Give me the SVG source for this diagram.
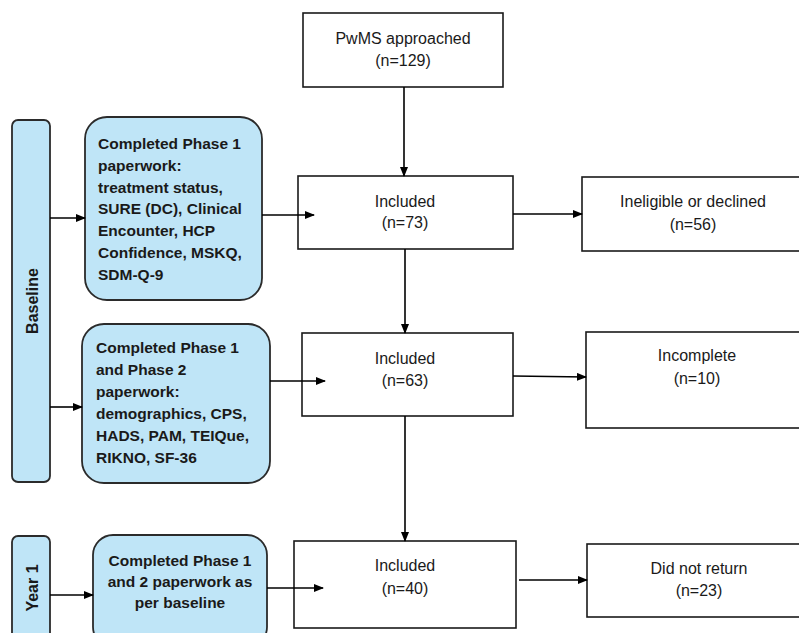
<svg xmlns="http://www.w3.org/2000/svg" width="799" height="633" viewBox="0 0 799 633">
<style>
.box{fill:#fff;stroke:#1a1a1a;stroke-width:1.6}
.blue{fill:#bfe5f7;stroke:#2b2b2b;stroke-width:1.8}
.t{font-family:"Liberation Sans",Arial,sans-serif;font-size:16px;fill:#1a1a1a;text-anchor:middle}
.b{font-family:"Liberation Sans",Arial,sans-serif;font-size:15.5px;font-weight:bold;fill:#1a1a1a}
.v{font-family:"Liberation Sans",Arial,sans-serif;font-size:16px;font-weight:bold;fill:#1a1a1a;text-anchor:middle}
.c{stroke:#000;stroke-width:1.6;fill:none;marker-end:url(#ah)}
</style>
<defs>
<marker id="ah" markerWidth="10" markerHeight="8" refX="9" refY="4" orient="auto" markerUnits="userSpaceOnUse">
<path d="M0,0 L10,4 L0,8 Z" fill="#000"/>
</marker>
</defs>
<rect width="799" height="633" fill="#fff"/>

<g id="baseline-bar">
<rect class="blue" x="12" y="120" width="38" height="362" rx="6"/>
<text class="v" transform="translate(38,301) rotate(-90)">Baseline</text>
</g>
<g id="year1-bar">
<rect class="blue" x="12" y="536" width="38" height="110" rx="6"/>
<text class="v" transform="translate(38,588) rotate(-90)">Year 1</text>
</g>

<g id="phase1">
<rect class="blue" x="85" y="117" width="177" height="183" rx="22"/>
<text class="b"><tspan x="98" y="149">Completed Phase 1</tspan><tspan x="98" y="171">paperwork:</tspan><tspan x="98" y="193">treatment status,</tspan><tspan x="98" y="214">SURE (DC), Clinical</tspan><tspan x="98" y="236">Encounter, HCP</tspan><tspan x="98" y="258">Confidence, MSKQ,</tspan><tspan x="98" y="280">SDM-Q-9</tspan></text>
</g>
<g id="phase12">
<rect class="blue" x="82" y="324" width="188" height="159" rx="22"/>
<text class="b"><tspan x="96" y="353">Completed Phase 1</tspan><tspan x="96" y="375">and Phase 2</tspan><tspan x="96" y="397">paperwork:</tspan><tspan x="96" y="419">demographics, CPS,</tspan><tspan x="96" y="441">HADS, PAM, TEIQue,</tspan><tspan x="96" y="463">RIKNO, SF-36</tspan></text>
</g>
<g id="year1-paper">
<rect class="blue" x="93" y="535" width="174" height="112" rx="20"/>
<text class="b" text-anchor="middle"><tspan x="180" y="566">Completed Phase 1</tspan><tspan x="180" y="587">and 2 paperwork as</tspan><tspan x="180" y="608">per baseline</tspan></text>
</g>

<g id="approached">
<rect class="box" x="303" y="13" width="200" height="74"/>
<text class="t"><tspan x="403" y="44">PwMS approached</tspan><tspan x="403" y="66">(n=129)</tspan></text>
</g>
<g id="included73">
<rect class="box" x="298" y="176" width="215" height="73"/>
<text class="t"><tspan x="405" y="207">Included</tspan><tspan x="405" y="228">(n=73)</tspan></text>
</g>
<g id="ineligible">
<rect class="box" x="582" y="177" width="230" height="74"/>
<text class="t"><tspan x="693" y="207">Ineligible or declined</tspan><tspan x="693" y="230">(n=56)</tspan></text>
</g>
<g id="included63">
<rect class="box" x="302" y="333" width="211" height="83"/>
<text class="t"><tspan x="405" y="364">Included</tspan><tspan x="405" y="386">(n=63)</tspan></text>
</g>
<g id="incomplete">
<rect class="box" x="586" y="332" width="226" height="96"/>
<text class="t"><tspan x="697" y="361">Incomplete</tspan><tspan x="697" y="384">(n=10)</tspan></text>
</g>
<g id="included40">
<rect class="box" x="294" y="541" width="222" height="87"/>
<text class="t"><tspan x="405" y="571">Included</tspan><tspan x="405" y="594">(n=40)</tspan></text>
</g>
<g id="didnotreturn">
<rect class="box" x="587" y="544" width="225" height="73"/>
<text class="t"><tspan x="699" y="574">Did not return</tspan><tspan x="699" y="596">(n=23)</tspan></text>
</g>

<g id="connectors">
<line class="c" x1="404" y1="87" x2="404" y2="176"/>
<line class="c" x1="405" y1="249" x2="405" y2="333"/>
<line class="c" x1="405" y1="416" x2="405" y2="541"/>
<line class="c" x1="513" y1="214" x2="582" y2="214"/>
<line class="c" x1="513" y1="376" x2="586" y2="377"/>
<line class="c" x1="519" y1="580" x2="587" y2="580"/>
<line class="c" x1="262" y1="215" x2="314" y2="215"/>
<line class="c" x1="270" y1="381" x2="325" y2="381"/>
<line class="c" x1="267" y1="588" x2="323" y2="588"/>
<line class="c" x1="50" y1="218" x2="85" y2="218"/>
<line class="c" x1="50" y1="407" x2="82" y2="407"/>
<line class="c" x1="50" y1="595" x2="93" y2="595"/>
</g>
</svg>
